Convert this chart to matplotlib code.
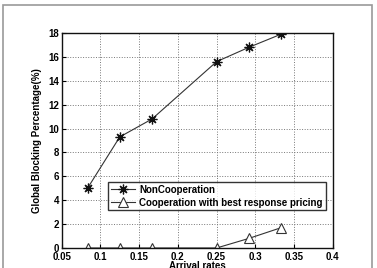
import matplotlib
matplotlib.use('Agg')
import matplotlib.pyplot as plt
from matplotlib.patches import Rectangle

# arrival rates (x) and blocking percentages
arrival = [1/12, 1/8, 1/6, 1/4, 7/24, 1/3]
noncoop = [5.0, 9.3, 10.8, 15.6, 16.8, 17.9]
coop = [0.0, 0.0, 0.0, 0.0, 0.8, 1.7]

xticks = [0.05, 0.1, 0.15, 0.2, 0.25, 0.3, 0.35, 0.4]
xticklabels = ["0.05", "0.1", "0.15", "0.2", "0.25", "0.3", "0.35", "0.4"]
yticks = [0, 2, 4, 6, 8, 10, 12, 14, 16, 18]

plt.rcParams['font.family'] = ['Liberation Sans', 'DejaVu Sans']
plt.rcParams['font.weight'] = 'bold'

fig = plt.figure(figsize=(3.77, 2.68), dpi=100)
fig.patch.set_facecolor('white')

# grey frame around the whole figure
fig.patches.append(Rectangle((2.5 / 377, -0.05), 369.5 / 377, 1.05 - 4.5 / 268,
                             transform=fig.transFigure, fill=False,
                             edgecolor='#999999', linewidth=1.2))

ax = fig.add_axes([61.7 / 377, 1 - 248 / 268, 271 / 377, 215 / 268])

# matlab style asterisk: 8 spokes
ax.plot(arrival, noncoop, color='#333333', lw=0.8, marker=(8, 2, 0), ms=7,
        mec='#111111', mew=0.9, label='NonCooperation')
ax.plot(arrival, coop, color='#333333', lw=0.8, marker='^', ms=7,
        mfc='white', mec='#333333', mew=0.8,
        label='Cooperation with best response pricing')

ax.set_xlim(0.05, 0.4)
ax.set_ylim(0, 18)
ax.set_xticks(xticks)
ax.set_xticklabels(xticklabels)
ax.set_yticks(yticks)
ax.tick_params(labelsize=7, direction='in', length=3, width=0.8)
ax.tick_params(axis='x', pad=3)
ax.tick_params(axis='y', pad=2)
for lab in ax.get_xticklabels() + ax.get_yticklabels():
    lab.set_fontweight('bold')

ax.grid(True, ls=':', color='#777777', lw=0.7)
for s in ax.spines.values():
    s.set_linewidth(1.0)
    s.set_color('#111111')

ax.set_xlabel("Arrival rates", fontsize=7, fontweight='bold', labelpad=-1)
ax.set_ylabel("Global Blocking Percentage(%)", fontsize=7, fontweight='bold', labelpad=4)

leg = ax.legend(loc='upper left', bbox_to_anchor=(46.5 / 271, 1 - 148.7 / 215),
                fontsize=7, frameon=True, fancybox=False, edgecolor='black',
                borderpad=0.3, labelspacing=0.3, handlelength=2.5,
                handletextpad=0.4, borderaxespad=0)
leg.get_frame().set_linewidth(1.0)
for t in leg.get_texts():
    t.set_fontweight('bold')

fig.savefig("out.png", dpi=100)
